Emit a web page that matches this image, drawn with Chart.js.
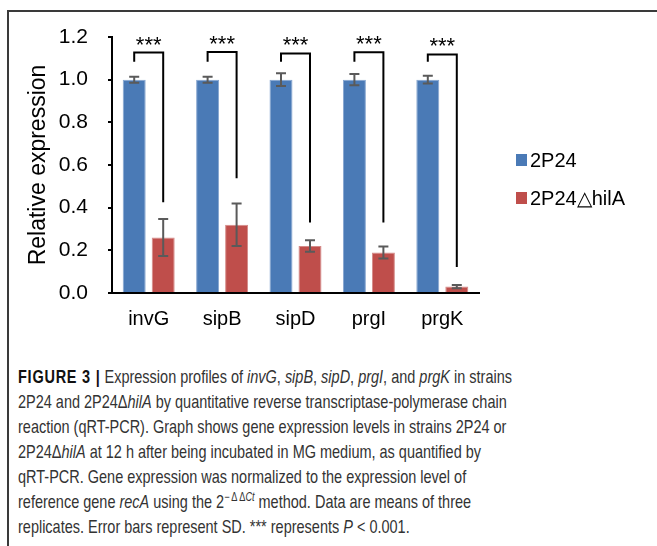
<!DOCTYPE html>
<html>
<head>
<meta charset="utf-8">
<title>Figure 3</title>
<script src="https://cdn.jsdelivr.net/npm/chart.js@4.4.1/dist/chart.umd.min.js"></script>
<style>
  html, body { margin: 0; padding: 0; background: #fff; }
  body { width: 657px; height: 546px; position: relative; overflow: hidden; }
  .frame {
    position: absolute; left: 7px; top: 10px; width: 660px; height: 545px;
    border-top: 2px solid #3a3a3a; border-left: 2px solid #3a3a3a;
  }
  .chart-box { position: absolute; left: 0; top: 0; width: 657px; height: 345px; }
  .caption {
    position: absolute; left: 18px; top: 364px;
    font-family: "Liberation Sans", Arial, sans-serif; font-size: 19px; line-height: 25px;
    color: #333; white-space: nowrap; transform-origin: 0 0;
  }
  .caption b { color: #111; letter-spacing: 1px; }
  .caption sup { font-size: 12px; line-height: 0; vertical-align: 7px; }
</style>
</head>
<body>
<div class="frame"></div>
<div class="chart-box"><canvas id="expressionChart"></canvas></div>
<div class="caption" id="caption">
  <div><b>FIGURE 3 |</b> Expression profiles of <i>invG</i>, <i>sipB</i>, <i>sipD</i>, <i>prgI</i>, and <i>prgK</i> in strains</div>
  <div>2P24 and 2P24&Delta;<i>hilA</i> by quantitative reverse transcriptase-polymerase chain</div>
  <div>reaction (qRT-PCR). Graph shows gene expression levels in strains 2P24 or</div>
  <div>2P24&Delta;<i>hilA</i> at 12 h after being incubated in MG medium, as quantified by</div>
  <div>qRT-PCR. Gene expression was normalized to the expression level of</div>
  <div>reference gene <i>recA</i> using the 2<sup>&minus;&thinsp;&Delta;&thinsp;&Delta;<i>Ct</i></sup> method. Data are means of three</div>
  <div>replicates. Error bars represent SD. *** represents <i>P</i> &lt; 0.001.</div>
</div>
<script>
const genes = ["invG", "sipB", "sipD", "prgI", "prgK"];
const seriesNames = ["2P24", "2P24\u25B3hilA"];
const wildType = [1.0, 1.0, 1.0, 1.0, 1.0];
const wildTypeSD = [0.014, 0.014, 0.03, 0.026, 0.018];
const mutant = [0.26, 0.32, 0.22, 0.19, 0.03];
const mutantSD = [0.087, 0.1, 0.027, 0.028, 0.008];

// significance brackets, in data units
const bracketTop = [1.127, 1.13, 1.123, 1.128, 1.118];
const bracketLeftEnd = [1.084, 1.084, 1.084, 1.084, 1.084];
const bracketRightEnd = [0.425, 0.538, 0.331, 0.331, 0.122];
const stars = ["***", "***", "***", "***", "***"];

const yMin = 0;
const yMax = 1.2;
const yStep = 0.2;

const blue = "#4a7ab6";
const red = "#bf4e4b";
const errorColor = "#5a5a5a";
const fontFamily = "'Liberation Sans', Arial, sans-serif";

const errorBars = {
  id: "errorBars",
  afterDatasetsDraw(chart) {
    const { ctx, scales: { y } } = chart;
    const sds = [wildTypeSD, mutantSD];
    ctx.save();
    ctx.strokeStyle = errorColor;
    ctx.lineWidth = 2;
    chart.data.datasets.forEach((ds, i) => {
      chart.getDatasetMeta(i).data.forEach((bar, j) => {
        const top = y.getPixelForValue(ds.data[j] + sds[i][j]);
        const bottom = y.getPixelForValue(ds.data[j] - sds[i][j]);
        ctx.beginPath();
        ctx.moveTo(bar.x, top);
        ctx.lineTo(bar.x, bottom);
        ctx.moveTo(bar.x - 5, top);
        ctx.lineTo(bar.x + 5, top);
        ctx.moveTo(bar.x - 5, bottom);
        ctx.lineTo(bar.x + 5, bottom);
        ctx.stroke();
      });
    });
    ctx.restore();
  }
};

const brackets = {
  id: "brackets",
  afterDatasetsDraw(chart) {
    const { ctx, scales: { y } } = chart;
    const left = chart.getDatasetMeta(0).data;
    const right = chart.getDatasetMeta(1).data;
    ctx.save();
    ctx.strokeStyle = "#000";
    ctx.lineWidth = 2;
    ctx.fillStyle = "#000";
    ctx.font = "22px " + fontFamily;
    ctx.textAlign = "center";
    ctx.textBaseline = "alphabetic";
    genes.forEach((g, j) => {
      const x1 = left[j].x;
      const x2 = right[j].x;
      const yt = y.getPixelForValue(bracketTop[j]);
      ctx.beginPath();
      ctx.moveTo(x1, y.getPixelForValue(bracketLeftEnd[j]));
      ctx.lineTo(x1, yt);
      ctx.lineTo(x2, yt);
      ctx.lineTo(x2, y.getPixelForValue(bracketRightEnd[j]));
      ctx.stroke();
      ctx.fillText(stars[j], (x1 + x2) / 2, yt - 1);
    });
    ctx.restore();
  }
};

const sideLegend = {
  id: "sideLegend",
  afterDraw(chart) {
    const { ctx, chartArea } = chart;
    const x = chartArea.right + 37;
    const rowY = [chartArea.top + 123, chartArea.top + 161];
    ctx.save();
    ctx.font = "20px " + fontFamily;
    ctx.textBaseline = "middle";
    ctx.textAlign = "left";
    chart.data.datasets.forEach((ds, i) => {
      ctx.fillStyle = ds.backgroundColor;
      ctx.fillRect(x, rowY[i] - 6, 11, 12);
      ctx.fillStyle = "#000";
      ctx.fillText(ds.label, x + 14, rowY[i] + 1);
    });
    ctx.restore();
  }
};

new Chart(document.getElementById("expressionChart"), {
  type: "bar",
  data: {
    labels: genes,
    datasets: [
      {
        label: seriesNames[0],
        data: wildType,
        backgroundColor: blue,
        borderColor: "#86a6d0",
        borderWidth: 1,
        categoryPercentage: 0.79,
        barPercentage: 0.793
      },
      {
        label: seriesNames[1],
        data: mutant,
        backgroundColor: red,
        borderColor: "#d48a88",
        borderWidth: 1,
        categoryPercentage: 0.79,
        barPercentage: 0.793
      }
    ]
  },
  options: {
    responsive: true,
    maintainAspectRatio: false,
    animation: false,
    layout: { padding: { left: 25, top: 37, right: 178, bottom: 0 } },
    plugins: {
      legend: { display: false },
      tooltip: { enabled: false }
    },
    scales: {
      x: {
        grid: { display: false, drawTicks: false },
        border: { display: true, color: "#000", width: 2 },
        ticks: { color: "#000", padding: 14, font: { family: fontFamily, size: 20 } }
      },
      y: {
        min: yMin,
        max: yMax,
        afterFit: scale => { scale.width = 87; },
        grid: { drawOnChartArea: false, drawTicks: true, tickLength: 4, color: "#000", lineWidth: 2 },
        border: { display: true, color: "#000", width: 2 },
        ticks: {
          stepSize: yStep,
          color: "#000",
          padding: 20,
          font: { family: fontFamily, size: 21 },
          callback: v => v.toFixed(1)
        },
        title: {
          display: true,
          text: "Relative expression",
          color: "#000",
          padding: { top: 0, bottom: 0 },
          font: { family: fontFamily, size: 23 }
        }
      }
    }
  },
  plugins: [errorBars, brackets, sideLegend]
});

// squeeze the caption to the narrow width of the original typesetting (line 2 spans 494px)
const caption = document.getElementById("caption");
const refLine = caption.children[1];
const natural = refLine.scrollWidth;
caption.style.transform = "scaleX(" + (494 / natural) + ")";
</script>
</body>
</html>
